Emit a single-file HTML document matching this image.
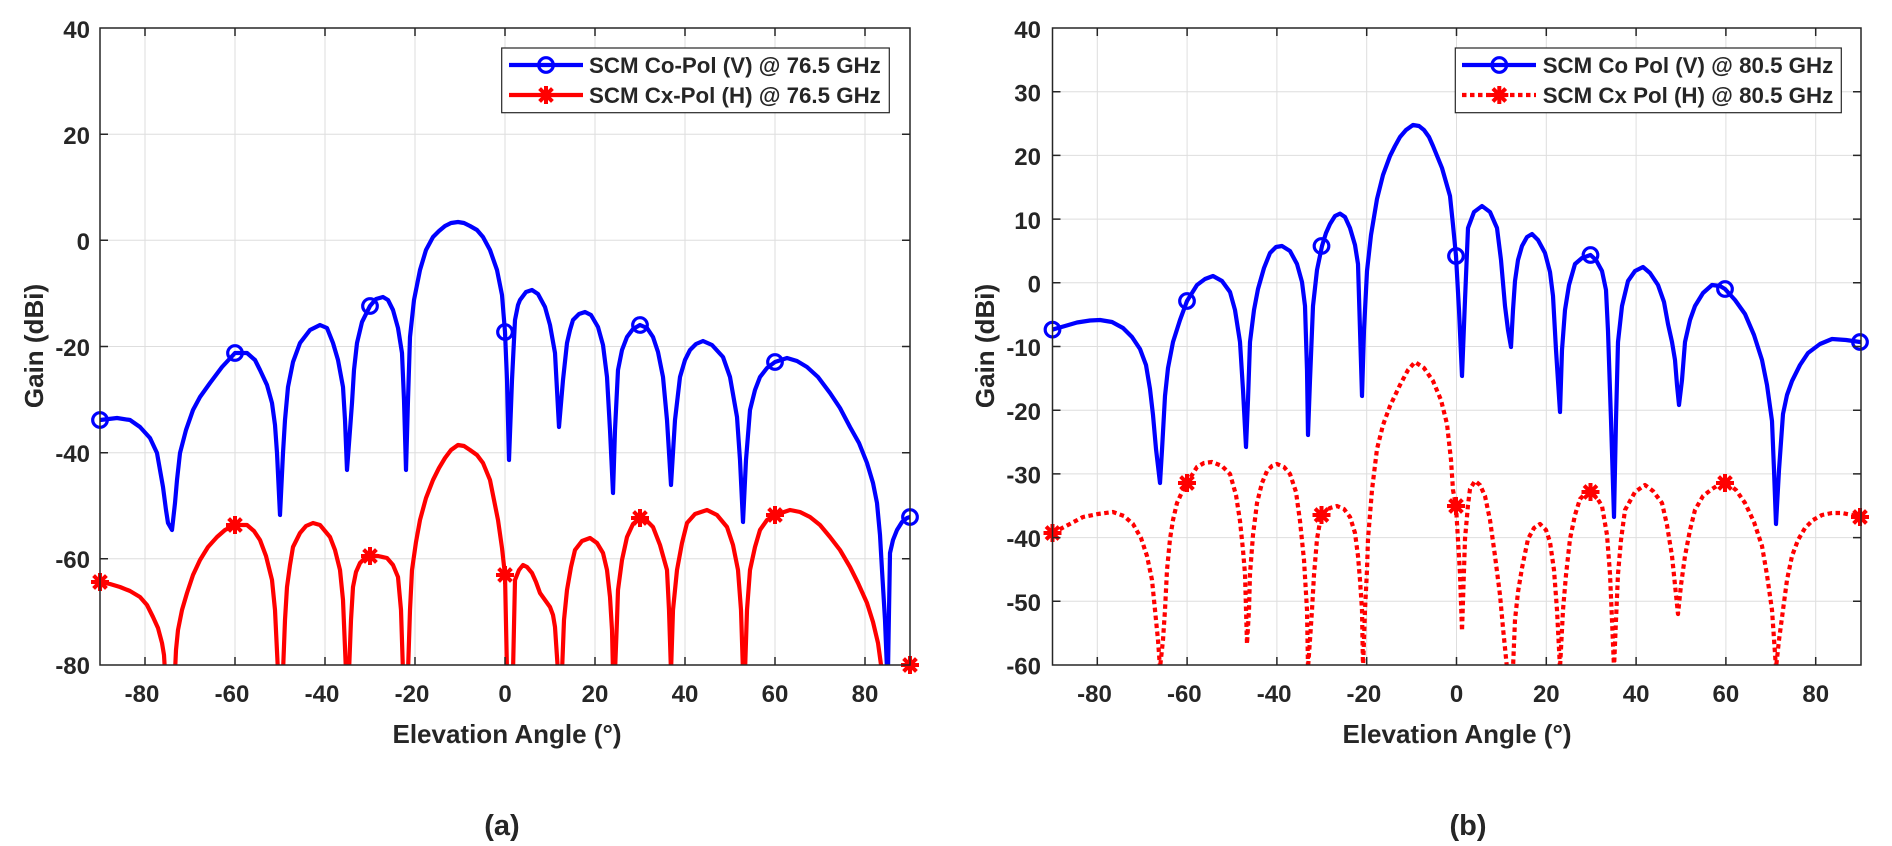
<!DOCTYPE html>
<html><head><meta charset="utf-8"><style>
html,body{margin:0;padding:0;background:#fff;}
svg{display:block;}
text{font-family:"Liberation Sans",Arial,sans-serif;font-weight:bold;fill:#262626;}
</style></head><body>
<svg width="1892" height="846" viewBox="0 0 1892 846" xmlns="http://www.w3.org/2000/svg">
<defs>
<clipPath id="cL"><rect x="100" y="28" width="810" height="637"/></clipPath>
<clipPath id="cR"><rect x="1052.5" y="28" width="808.5" height="637"/></clipPath>
<g id="circ"><circle cx="0" cy="0" r="7.3" fill="none" stroke="#0000ff" stroke-width="3.2"/></g>
<g id="star" stroke="#ff0000" stroke-width="4" stroke-linecap="butt">
<line x1="-9" y1="0" x2="9" y2="0"/><line x1="0" y1="-9" x2="0" y2="9"/>
<line x1="-6.4" y1="-6.4" x2="6.4" y2="6.4"/><line x1="-6.4" y1="6.4" x2="6.4" y2="-6.4"/>
<circle cx="0" cy="0" r="4.5" fill="#ff0000" stroke="none"/>
</g>
</defs>
<rect width="1892" height="846" fill="#fff"/>

<!-- ============ LEFT PLOT ============ -->
<g stroke="#dedede" stroke-width="1">
<line x1="145" y1="28" x2="145" y2="665"/><line x1="235" y1="28" x2="235" y2="665"/><line x1="325" y1="28" x2="325" y2="665"/><line x1="415" y1="28" x2="415" y2="665"/><line x1="505" y1="28" x2="505" y2="665"/><line x1="595" y1="28" x2="595" y2="665"/><line x1="685" y1="28" x2="685" y2="665"/><line x1="775" y1="28" x2="775" y2="665"/><line x1="865" y1="28" x2="865" y2="665"/>
<line x1="100" y1="134.2" x2="910" y2="134.2"/><line x1="100" y1="240.3" x2="910" y2="240.3"/><line x1="100" y1="346.5" x2="910" y2="346.5"/><line x1="100" y1="452.7" x2="910" y2="452.7"/><line x1="100" y1="558.8" x2="910" y2="558.8"/>
</g>
<g clip-path="url(#cL)" fill="none" stroke-width="4.2" stroke-linejoin="round" stroke-linecap="round">
<polyline stroke="#0000ff" points="100,420 117,418 130,420 140,427 150,438 157,453 163,487 166,510 168,523 172,530 175,503 177,480 180,453 186,430 193,410 200,397 210,383 222,367 235,353 247,353 255,360 260,370 267,385 272,403 275,425 277,453 280,515 283,453 285,420 288,387 293,362 300,343 310,330 320,325 327,328 333,343 338,360 343,387 345,420 347,470 350,430 352,403 354,370 357,343 362,322 370,306 376,299 383,297 388,300 393,310 398,328 402,353 404,400 406,470 408,400 410,337 414,300 420,270 426,250 433,237 439,231 445,226 451,223 458,222 464,223 470,226 477,230 483,237 490,250 497,270 502,295 505,332 507,380 509,460 512,380 515,320 518,305 520,300 526,292 532,290 538,294 545,307 550,325 555,353 557,390 559,427 563,380 567,343 570,330 573,320 579,314 585,312 591,315 598,327 603,345 607,377 610,430 613,493 615,430 618,370 622,350 627,337 633,329 640,325 647,328 653,337 658,352 663,377 667,420 671,485 675,420 680,377 685,360 690,350 696,344 703,341 712,345 723,357 730,377 737,417 740,460 743,522 746,460 750,410 755,390 760,377 767,368 775,362 787,358 797,361 807,367 818,377 830,393 840,408 850,427 859,443 867,463 873,483 877,503 880,535 882,570 885,620 887,670 888,670 890,553 893,540 897,530 902,522 907,518 910,517"/>
<polyline stroke="#ff0000" points="100,582 110,584 120,587 130,591 140,597 147,605 153,617 158,628 162,643 164,655 165,672"/>
<polyline stroke="#ff0000" points="175,672 176,650 178,630 182,610 187,593 193,575 200,560 208,547 217,537 225,530 235,525 247,525 254,531 260,540 266,556 272,580 275,610 278,672 283,672 285,620 287,587 290,565 293,547 300,533 306,526 313,523 320,525 330,537 335,550 340,570 343,600 346,672 349,672 351,620 353,587 356,572 360,563 365,558 370,556 378,556 387,558 393,565 398,577 401,610 403,672 408,672 410,610 412,570 416,542 420,520 426,498 433,480 439,468 445,458 451,450 458,445 464,446 470,450 477,455 483,463 490,480 498,520 502,548 505,575 507,672 513,672 515,580 519,570 523,565 527,567 532,573 536,582 540,593 545,600 550,607 553,615 555,627 558,672 562,672 564,620 567,590 571,567 575,550 582,541 590,538 597,543 603,553 607,570 610,597 612,630 613,672 615,672 617,620 618,590 622,560 627,537 633,524 640,518 647,521 653,527 660,545 667,570 669,610 671,672 673,610 677,570 682,543 687,523 695,514 707,510 717,515 727,527 733,545 738,570 741,610 743,672 745,672 747,610 750,570 755,547 760,530 767,520 775,515 790,510 800,512 810,517 820,525 830,537 840,550 850,567 858,583 867,603 873,622 878,643 882,672"/>
<polyline stroke="#ff0000" points="902,672 910,665"/>
</g>
<g>
<use href="#circ" x="100" y="420"/><use href="#circ" x="235" y="353"/><use href="#circ" x="370" y="306"/><use href="#circ" x="505" y="332"/><use href="#circ" x="640" y="325"/><use href="#circ" x="775" y="362"/><use href="#circ" x="910" y="517"/>
<use href="#star" x="100" y="582"/><use href="#star" x="235" y="525"/><use href="#star" x="370" y="556"/><use href="#star" x="505" y="575"/><use href="#star" x="640" y="518"/><use href="#star" x="775" y="515"/><use href="#star" x="910" y="665"/>
</g>
<rect x="100" y="28" width="810" height="637" fill="none" stroke="#262626" stroke-width="1.5"/>
<g stroke="#262626" stroke-width="1.5">
<path d="M145,665v-8M235,665v-8M325,665v-8M415,665v-8M505,665v-8M595,665v-8M685,665v-8M775,665v-8M865,665v-8
M145,28v8M235,28v8M325,28v8M415,28v8M505,28v8M595,28v8M685,28v8M775,28v8M865,28v8
M100,134.2h8M100,240.3h8M100,346.5h8M100,452.7h8M100,558.8h8
M910,134.2h-8M910,240.3h-8M910,346.5h-8M910,452.7h-8M910,558.8h-8"/>
</g>
<g font-size="24" text-anchor="end">
<text x="90" y="38">40</text><text x="90" y="144">20</text><text x="90" y="250">0</text><text x="90" y="356">-20</text><text x="90" y="462">-40</text><text x="90" y="568">-60</text><text x="90" y="674">-80</text>
</g>
<g font-size="24" text-anchor="middle">
<text x="142" y="702">-80</text><text x="232" y="702">-60</text><text x="322" y="702">-40</text><text x="412" y="702">-20</text><text x="505" y="702">0</text><text x="595" y="702">20</text><text x="685" y="702">40</text><text x="775" y="702">60</text><text x="865" y="702">80</text>
</g>
<text x="507" y="743" font-size="26" text-anchor="middle">Elevation Angle (°)</text>
<text transform="translate(43,346) rotate(-90)" font-size="26" text-anchor="middle">Gain (dBi)</text>
<text x="502" y="835" font-size="29" text-anchor="middle">(a)</text>
<rect x="501.7" y="48" width="387.6" height="64.7" fill="#fff" stroke="#262626" stroke-width="1.2"/>
<line x1="509" y1="65" x2="583" y2="65" stroke="#0000ff" stroke-width="4.2"/>
<use href="#circ" x="546" y="65"/>
<line x1="509" y1="95" x2="583" y2="95" stroke="#ff0000" stroke-width="4.2"/>
<use href="#star" x="546" y="95"/>
<text x="589" y="73" font-size="22.3" fill="#000">SCM Co-Pol (V) @ 76.5 GHz</text>
<text x="589" y="103" font-size="22.3" fill="#000">SCM Cx-Pol (H) @ 76.5 GHz</text>

<!-- ============ RIGHT PLOT ============ -->
<g stroke="#dedede" stroke-width="1">
<line x1="1097.3" y1="28" x2="1097.3" y2="665"/><line x1="1187.1" y1="28" x2="1187.1" y2="665"/><line x1="1276.9" y1="28" x2="1276.9" y2="665"/><line x1="1366.7" y1="28" x2="1366.7" y2="665"/><line x1="1456.5" y1="28" x2="1456.5" y2="665"/><line x1="1546.3" y1="28" x2="1546.3" y2="665"/><line x1="1636.1" y1="28" x2="1636.1" y2="665"/><line x1="1725.9" y1="28" x2="1725.9" y2="665"/><line x1="1815.7" y1="28" x2="1815.7" y2="665"/>
<line x1="1052.5" y1="91.7" x2="1861" y2="91.7"/><line x1="1052.5" y1="155.4" x2="1861" y2="155.4"/><line x1="1052.5" y1="219.1" x2="1861" y2="219.1"/><line x1="1052.5" y1="282.8" x2="1861" y2="282.8"/><line x1="1052.5" y1="346.5" x2="1861" y2="346.5"/><line x1="1052.5" y1="410.2" x2="1861" y2="410.2"/><line x1="1052.5" y1="473.9" x2="1861" y2="473.9"/><line x1="1052.5" y1="537.6" x2="1861" y2="537.6"/><line x1="1052.5" y1="601.3" x2="1861" y2="601.3"/>
</g>
<g clip-path="url(#cR)" fill="none" stroke-width="4.2" stroke-linejoin="round">
<polyline stroke="#0000ff" stroke-linecap="round" points="1052.5,329.6 1065,326 1077,322.5 1090,320.5 1100,320 1112,322 1123,328 1132,337 1140,349 1146,365 1150,389 1153,415 1156,449 1160,483 1162,450 1165,396 1168,368 1173,342 1180,320 1187,301 1197,285 1205,279 1213,276 1222,281 1230,292 1235,310 1240,342 1243,390 1246,447 1248,400 1250,342 1254,310 1258,289 1264,268 1270,253 1276,247 1282,246 1290,251 1297,264 1302,282 1305,306 1307,370 1308,435 1310,380 1313,306 1317,270 1322,246 1326,233 1330,224 1335,216 1340,213.6 1345,217 1350,228 1355,245 1358,264 1360,330 1362,396 1364,330 1367,271 1371,235 1377,199 1383,175 1390,156 1395,146 1400,137 1406,130 1413,125 1419,126 1424,130 1429,137 1433,146 1442,168 1450,196 1453,225 1456,256 1459,310 1462,376 1465,300 1468,228 1474,212 1482,206 1490,212 1497,228 1501,260 1505,306 1508,330 1511,347 1513,310 1515,281 1518,260 1522,246 1527,237 1532,234 1538,240 1545,253 1550,272 1553,296 1556,350 1560,412 1562,350 1565,310 1569,285 1575,264 1582,258 1590.5,255 1596,260 1602,271 1606,290 1608,331 1611,420 1614,517 1616,420 1618,342 1622,306 1628,281 1635,271 1643,267 1650,273 1658,285 1664,302 1668,324 1672,342 1675,360 1677,385 1679,405 1682,380 1685,342 1690,320 1695,306 1703,293 1712,285 1720,286 1725,289 1735,300 1745,314 1754,335 1762,360 1767,385 1772,421 1774,470 1776,524 1779,470 1783,414 1787,395 1792,381 1800,365 1808,353 1820,344 1832,339 1846,340 1860,342"/>
<polyline stroke="#ff0000" stroke-dasharray="4.5 3.5" stroke-linecap="butt" points="1052.5,533 1068,525 1083,517 1098,514 1113,512 1124,516 1133,524 1141,538 1147,556 1152,580 1155,610 1158,640 1160,668 1163,640 1165,610 1167,570 1170,539 1173,520 1177,503 1182,492 1187,483 1197,467 1204,463 1212,462 1222,466 1230,474 1236,495 1240,521 1243,550 1245,574 1247,644 1249,610 1250,574 1253,535 1257,503 1262,483 1267,471 1272,466 1277,464 1284,467 1290,474 1296,492 1300,521 1304,560 1307,610 1308,668 1310,640 1312,610 1314,575 1317,539 1320,522 1322,515 1330,508 1337,506 1344,509 1350,517 1355,533 1358,556 1360,580 1362,610 1363,668 1364,640 1365,610 1367,570 1368,539 1372,490 1377,449 1383,425 1390,406 1400,385 1408,370 1415,362 1424,368 1433,381 1441,400 1447,424 1451,460 1453,490 1456,506 1458,540 1460,574 1462,631 1464,570 1465,539 1468,505 1470,489 1475,481 1480,485 1485,496 1490,520 1495,556 1500,595 1503,628 1507,668 1513,668 1515,620 1518,592 1522,568 1528,539 1534,528 1540,524 1546,530 1550,542 1554,570 1557,610 1560,668 1563,610 1566,575 1570,539 1575,515 1580,499 1585,494 1590.5,492 1597,498 1602,506 1607,535 1610,574 1612,620 1614,668 1616,620 1618,574 1621,540 1625,510 1635,492 1645,485 1653,491 1662,503 1667,525 1672,556 1675,585 1678,614 1681,585 1685,556 1690,530 1695,510 1703,496 1712,489 1720,484 1727,483 1736,490 1745,503 1754,522 1762,546 1767,575 1772,610 1776,668 1779,640 1783,610 1787,580 1792,556 1798,540 1805,528 1813,520 1822,515 1832,513 1842,513 1852,515 1860,517"/>
</g>
<g>
<use href="#circ" x="1052.5" y="329.6"/><use href="#circ" x="1187" y="301"/><use href="#circ" x="1321.5" y="246"/><use href="#circ" x="1456" y="256"/><use href="#circ" x="1590.5" y="255"/><use href="#circ" x="1725" y="289"/><use href="#circ" x="1860" y="342"/>
<use href="#star" x="1052.5" y="533"/><use href="#star" x="1187" y="483"/><use href="#star" x="1321.5" y="515"/><use href="#star" x="1456" y="506"/><use href="#star" x="1590.5" y="492"/><use href="#star" x="1725" y="483"/><use href="#star" x="1860" y="517"/>
</g>
<rect x="1052.5" y="28" width="808.5" height="637" fill="none" stroke="#262626" stroke-width="1.5"/>
<g stroke="#262626" stroke-width="1.5">
<path d="M1097.3,665v-8M1187.1,665v-8M1276.9,665v-8M1366.7,665v-8M1456.5,665v-8M1546.3,665v-8M1636.1,665v-8M1725.9,665v-8M1815.7,665v-8
M1097.3,28v8M1187.1,28v8M1276.9,28v8M1366.7,28v8M1456.5,28v8M1546.3,28v8M1636.1,28v8M1725.9,28v8M1815.7,28v8
M1052.5,91.7h8M1052.5,155.4h8M1052.5,219.1h8M1052.5,282.8h8M1052.5,346.5h8M1052.5,410.2h8M1052.5,473.9h8M1052.5,537.6h8M1052.5,601.3h8
M1861,91.7h-8M1861,155.4h-8M1861,219.1h-8M1861,282.8h-8M1861,346.5h-8M1861,410.2h-8M1861,473.9h-8M1861,537.6h-8M1861,601.3h-8"/>
</g>
<g font-size="24" text-anchor="end">
<text x="1041" y="38">40</text><text x="1041" y="101.5">30</text><text x="1041" y="165">20</text><text x="1041" y="229">10</text><text x="1041" y="292.5">0</text><text x="1041" y="356">-10</text><text x="1041" y="420">-20</text><text x="1041" y="483.5">-30</text><text x="1041" y="547">-40</text><text x="1041" y="611">-50</text><text x="1041" y="674.5">-60</text>
</g>
<g font-size="24" text-anchor="middle">
<text x="1094.5" y="702">-80</text><text x="1184.3" y="702">-60</text><text x="1274.1" y="702">-40</text><text x="1363.9" y="702">-20</text><text x="1456.5" y="702">0</text><text x="1546.3" y="702">20</text><text x="1636.1" y="702">40</text><text x="1725.9" y="702">60</text><text x="1815.7" y="702">80</text>
</g>
<text x="1457" y="743" font-size="26" text-anchor="middle">Elevation Angle (°)</text>
<text transform="translate(994,346) rotate(-90)" font-size="26" text-anchor="middle">Gain (dBi)</text>
<text x="1468" y="835" font-size="29" text-anchor="middle">(b)</text>
<rect x="1455.3" y="48" width="386" height="64.7" fill="#fff" stroke="#262626" stroke-width="1.2"/>
<line x1="1462" y1="65" x2="1536" y2="65" stroke="#0000ff" stroke-width="4.2"/>
<use href="#circ" x="1499.3" y="65"/>
<line x1="1462" y1="95" x2="1536" y2="95" stroke="#ff0000" stroke-width="4.2" stroke-dasharray="4.5 3.5"/>
<use href="#star" x="1499.3" y="95"/>
<text x="1542.7" y="73" font-size="22.3" fill="#000">SCM Co Pol (V) @ 80.5 GHz</text>
<text x="1542.7" y="103" font-size="22.3" fill="#000">SCM Cx Pol (H) @ 80.5 GHz</text>
</svg>
</body></html>
